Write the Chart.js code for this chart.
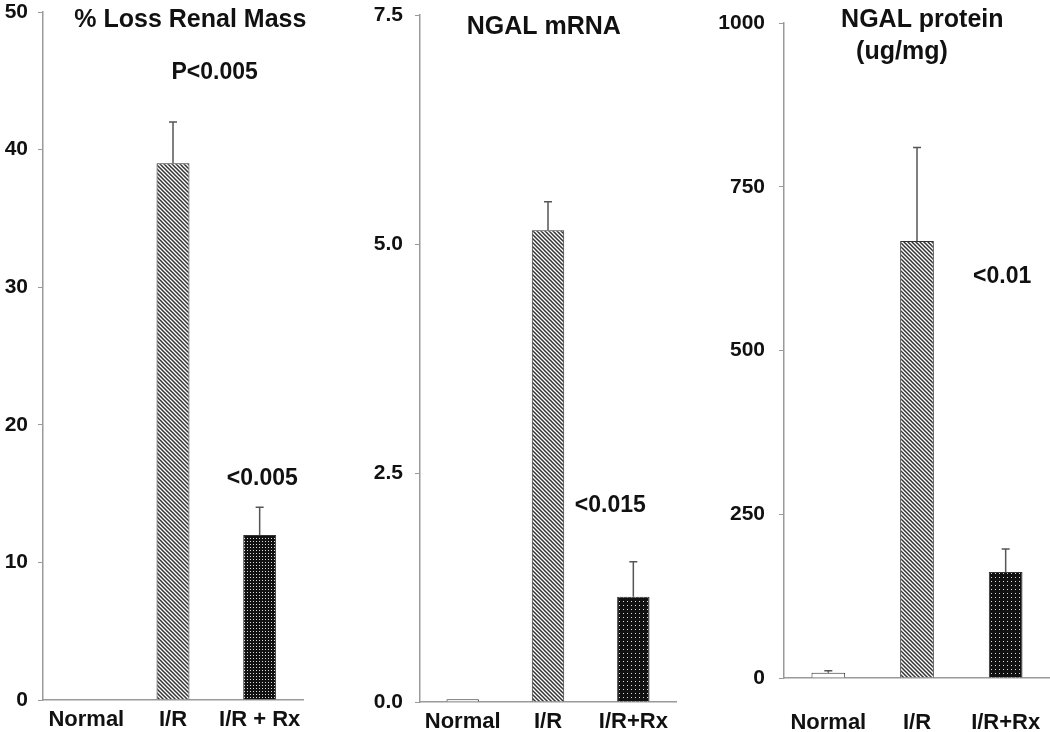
<!DOCTYPE html>
<html>
<head>
<meta charset="utf-8">
<script src="https://cdn.jsdelivr.net/npm/chart.js@4.4.1/dist/chart.umd.min.js"></script>
<style>
  html, body { margin: 0; padding: 0; background: #fff; }
  #wrap { position: relative; width: 1050px; height: 732px; overflow: hidden; }
  canvas { position: absolute; top: 0; }
</style>
</head>
<body>
<div id="wrap">
  <canvas id="massChart" width="310" height="732" style="left:0px"></canvas>
  <canvas id="mrnaChart" width="350" height="732" style="left:330px"></canvas>
  <canvas id="proteinChart" width="360" height="732" style="left:690px"></canvas>
</div>
<script>
const massLabels = ["Normal", "I/R", "I/R + Rx"];
const massValues = [0, 39, 12];
const massErrors = [0, 3, 2];
const massTicks = [0, 10, 20, 30, 40, 50];

const mrnaLabels = ["Normal", "I/R", "I/R+Rx"];
const mrnaValues = [0.03, 5.15, 1.15];
const mrnaErrors = [0, 0.31, 0.38];
const mrnaTicks = [0, 2.5, 5, 7.5];

const proteinLabels = ["Normal", "I/R", "I/R+Rx"];
const proteinValues = [8, 667, 162];
const proteinErrors = [3, 143, 35];
const proteinTicks = [0, 250, 500, 750, 1000];

// texts placed in data units: [category index, value], plus font size
const massNotes = [
  { text: "% Loss Renal Mass", at: [1.2, 49.4], size: 25 },
  { text: "P<0.005", at: [1.48, 45.6], size: 23 },
  { text: "<0.005", at: [2.03, 16.1], size: 23 }
];
const mrnaNotes = [
  { text: "NGAL mRNA", at: [0.95, 7.37], size: 25 },
  { text: "<0.015", at: [1.73, 2.14], size: 23 }
];
const proteinNotes = [
  { text: "NGAL protein", at: [1.06, 1004], size: 25 },
  { text: "(ug/mg)", at: [0.83, 955], size: 25 },
  { text: "<0.01", at: [1.96, 612], size: 23 }
];

const FONT = "'Liberation Sans', Arial, sans-serif";
const INK = "#111";
const AXIS = "#9a9a9a";

function hatchPattern() {
  const s = 4;
  const c = document.createElement("canvas");
  c.width = s; c.height = s;
  const g = c.getContext("2d");
  g.fillStyle = "#fff";
  g.fillRect(0, 0, s, s);
  g.strokeStyle = "#333";
  g.lineWidth = 1.5;
  g.beginPath();
  g.moveTo(-1, -1); g.lineTo(s + 1, s + 1);
  g.moveTo(-1, s - 1); g.lineTo(1, s + 1);
  g.moveTo(s - 1, -1); g.lineTo(s + 1, 1);
  g.stroke();
  return g.createPattern(c, "repeat");
}

function dotPattern(step) {
  const c = document.createElement("canvas");
  c.width = step; c.height = step;
  const g = c.getContext("2d");
  g.fillStyle = "#111";
  g.fillRect(0, 0, step, step);
  g.fillStyle = "#ddd";
  g.fillRect(1, 1, 1, 1);
  return g.createPattern(c, "repeat");
}

function panel(id, labels, values, errors, ticks, notes, box) {
  const ctx = document.getElementById(id);

  const errorBars = {
    id: "errorBars",
    afterDatasetsDraw: function (chart) {
      const meta = chart.getDatasetMeta(0);
      const y = chart.scales.y;
      const g = chart.ctx;
      g.save();
      g.strokeStyle = "#555";
      g.lineWidth = 1.5;
      meta.data.forEach(function (bar, i) {
        if (!errors[i]) return;
        const top = y.getPixelForValue(values[i] + errors[i]);
        g.beginPath();
        g.moveTo(bar.x, bar.y);
        g.lineTo(bar.x, top);
        g.moveTo(bar.x - 4, top);
        g.lineTo(bar.x + 4, top);
        g.stroke();
      });
      g.restore();
    }
  };

  const texts = {
    id: "texts",
    afterDraw: function (chart) {
      const g = chart.ctx;
      g.save();
      g.fillStyle = INK;
      g.textAlign = "center";
      g.textBaseline = "middle";
      notes.forEach(function (n) {
        g.font = "bold " + n.size + "px " + FONT;
        g.fillText(n.text, chart.scales.x.getPixelForValue(n.at[0]), chart.scales.y.getPixelForValue(n.at[1]));
      });
      g.restore();
    }
  };

  return new Chart(ctx, {
    type: "bar",
    data: {
      labels: labels,
      datasets: [{
        data: values,
        backgroundColor: ["#fff", hatchPattern(), dotPattern(box.dot)],
        borderColor: "#333",
        borderWidth: 1,
        barPercentage: 0.38,
        categoryPercentage: 1
      }]
    },
    options: {
      responsive: false,
      animation: false,
      layout: { padding: { top: box.top, right: box.right, left: 0, bottom: 0 } },
      plugins: { legend: { display: false }, tooltip: { enabled: false } },
      scales: {
        x: {
          grid: { display: false, drawTicks: false },
          border: { display: true, color: AXIS, width: 1.5 },
          ticks: {
            color: INK,
            padding: box.labelPad,
            maxRotation: 0,
            minRotation: 0,
            autoSkip: false,
            font: { family: FONT, size: 22, weight: "bold" }
          },
          afterFit: function (s) {
            s.height = box.xh;
            s.paddingLeft = 0;
            s.paddingRight = 0;
          }
        },
        y: {
          min: ticks[0],
          max: ticks[ticks.length - 1],
          afterBuildTicks: function (s) { s.ticks = ticks.map(function (v) { return { value: v }; }); },
          grid: { drawOnChartArea: false, drawTicks: true, tickLength: 5, color: AXIS },
          border: { display: true, color: AXIS, width: 1.5 },
          ticks: {
            color: INK,
            padding: box.tickPad,
            font: { family: FONT, size: 21, weight: "bold" },
            callback: function (v) { return box.fmt ? Number(v).toFixed(1) : v; }
          },
          afterFit: function (s) {
            s.width = box.yw;
            s.paddingTop = 0;
            s.paddingBottom = 0;
          }
        }
      }
    },
    plugins: [errorBars, texts]
  });
}

panel("massChart", massLabels, massValues, massErrors, massTicks, massNotes,
  { top: 12, right: 7, xh: 32, yw: 43, labelPad: 7, tickPad: 10, dot: 3, fmt: false });
panel("mrnaChart", mrnaLabels, mrnaValues, mrnaErrors, mrnaTicks, mrnaNotes,
  { top: 15, right: 4, xh: 30, yw: 90, labelPad: 7, tickPad: 12, dot: 4, fmt: true });
panel("proteinChart", proteinLabels, proteinValues, proteinErrors, proteinTicks, proteinNotes,
  { top: 23, right: 0, xh: 54, yw: 94, labelPad: 32, tickPad: 14, dot: 4, fmt: false });
</script>
</body>
</html>
